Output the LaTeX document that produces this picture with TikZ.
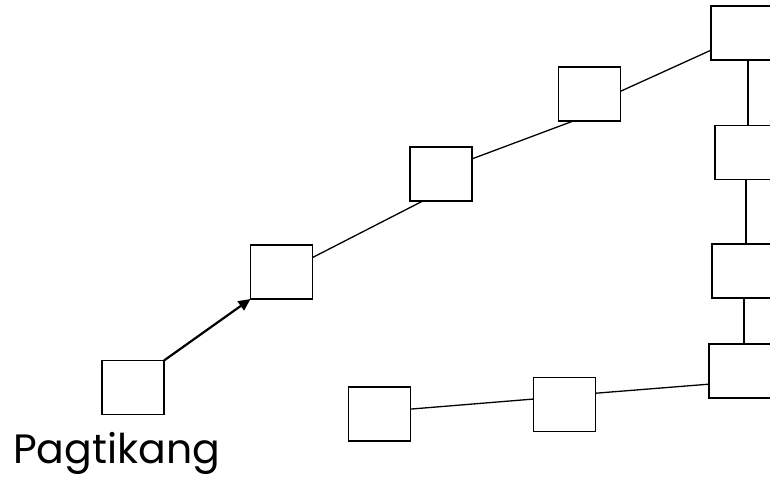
\documentclass[tikz,border=0pt]{standalone}
\usepackage{fontspec}
\setmainfont{Poppins}
\usetikzlibrary{arrows.meta}

\begin{document}
\begin{tikzpicture}[
  x=1pt, y=-1pt,
  box/.style={draw, line width=1.6pt, minimum width=62pt, minimum height=54pt, inner sep=0pt, outer sep=0pt},
  link/.style={line width=1.3pt},
  arr/.style={-{Triangle[length=12pt, width=11pt]}, line width=2.2pt}
]
\useasboundingbox (0,0) rectangle (770,480);
\clip (0,0) rectangle (770,480);
% boxes along the path
\node[box] (b1) at (133,387.5) {};
\node[box] (b2) at (281.5,272) {};
\node[box] (b3) at (441,174) {};
\node[box] (b4) at (589.5,94) {};
\node[box] (b5) at (742,33) {};
\node[box] (b6) at (746,152.5) {};
\node[box] (b7) at (743,271) {};
\node[box] (b8) at (740,371) {};
\node[box] (b9) at (564.5,404.5) {};
\node[box] (b10) at (379.5,414) {};
\node[anchor=base west, font=\fontsize{41}{46}\selectfont, inner sep=0pt] (start) at (13,463) {Pagtikang};
% connectors
\draw[arr] (b1.north east) -- (b2.south west);
\draw[link] (b2.25) -- (b3.236);
\draw[link] (b3.26) -- (b4.239);
\draw[link] (b4.5) -- (b5.209);
\draw[link] ([xshift=6pt]b5.south) -- ([xshift=2pt]b6.north);
\draw[link] (b6.south) -- ([xshift=3pt]b7.north);
\draw[link] ([xshift=1pt]b7.south) -- ([xshift=4pt]b8.north);
\draw[link] (b8.203) -- (b9.20);
\draw[link] (b9.170) -- (b10.9);
\end{tikzpicture}
\end{document}
